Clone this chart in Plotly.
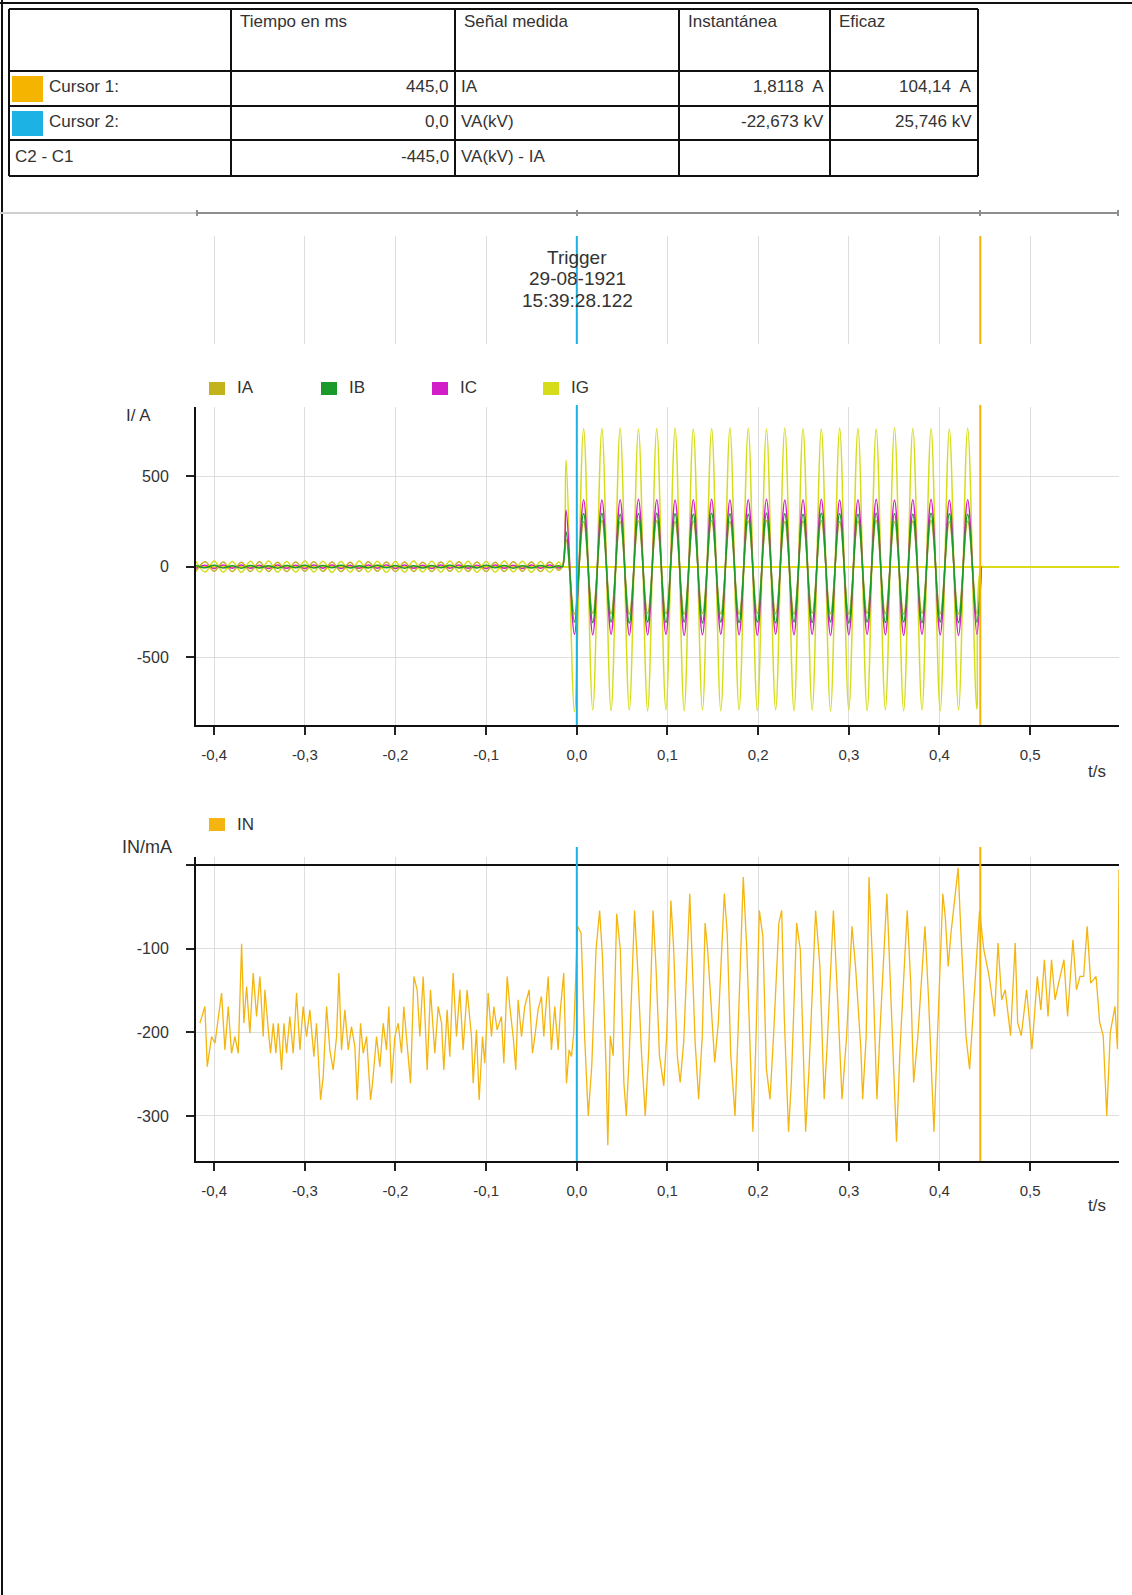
import plotly.graph_objects as go

W, H = 1132, 1595
FONT = "Liberation Sans, Arial, sans-serif"
TXT = "#333333"


def fx(p):
    return p / W


def fy(p):
    return 1 - p / H


# ---------------- data ----------------
TABLE_HEADERS = ["Tiempo en ms", "Señal medida", "Instantánea", "Eficaz"]
ROW_LABELS = ["Cursor 1:", "Cursor 2:", "C2 - C1"]
ROW_TIMES = ["445,0", "0,0", "-445,0"]
ROW_SIGNALS = ["IA", "VA(kV)", "VA(kV) - IA"]
ROW_INST = ["1,8118\u00a0 A", "-22,673 kV", ""]
ROW_RMS = ["104,14\u00a0 A", "25,746 kV", ""]

CURSOR_T_S = [0.445, 0.0]
CURSOR_COLORS = ["#f5b400", "#1cb2e4"]

TRIGGER_LINES = ["Trigger", "29-08-1921", "15:39:28.122"]

X_TICKS = [-0.4, -0.3, -0.2, -0.1, 0.0, 0.1, 0.2, 0.3, 0.4, 0.5]
X_TICK_TEXT = ["-0,4", "-0,3", "-0,2", "-0,1", "0,0", "0,1", "0,2", "0,3", "0,4", "0,5"]
I_TICKS = [-500, 0, 500]
I_TICK_TEXT = ["-500", "0", "500"]
IN_TICKS = [-300, -200, -100, 0]
IN_TICK_TEXT = ["-300", "-200", "-100", ""]

PHASE_NAMES = ["IA", "IB", "IC", "IG"]
PHASE_COLORS = ["#c2b21c", "#1a9a2a", "#d21ec8", "#d6dc1a"]
IN_NAME = "IN"
IN_COLOR = "#f4b510"

# pre-fault samples (ms) and small currents (A)
PRE_T_MS = [-420, -410, -400, -390, -380, -370, -360, -350, -340, -330,
            -320, -310, -300, -290, -280, -270, -260, -250, -240, -230,
            -220, -210, -200, -190, -180, -170, -160, -150, -140, -130,
            -120, -110, -100, -90, -80, -70, -60, -50, -40, -30, -20]
IA_PRE = [-26, 27, -25, 26, -27, 25, -26, 27, -26, 25, -27, 26, -25, 27, -26, 26, -27, 25, -26, 27,
          -25, 26, -27, 26, -26, 25, -27, 26, -25, 27, -26, 26, -27, 25, -26, 27, -25, 26, -27, 26, -20]
IB_PRE = [7, -6, 8, -7, 6, -8, 7, -7, 6, -8, 7, -6, 8, -7, 7, -6, 8, -7, 6, -7,
          8, -6, 7, -8, 6, -7, 7, -6, 8, -7, 6, -7, 8, -6, 7, -8, 6, -7, 7, -6, 5]
IC_PRE = [-9, 8, -10, 9, -8, 10, -9, 8, -10, 9, -9, 8, -10, 9, -8, 9, -10, 8, -9, 10,
          -8, 9, -10, 9, -9, 8, -10, 9, -8, 10, -9, 8, -10, 9, -9, 8, -10, 9, -8, 10, -7]
IG_PRE = [30, -29, 31, -30, 29, -31, 30, -29, 31, -30, 29, -30, 31, -29, 30, -31, 29, -30, 31, -29,
          30, -31, 29, -30, 31, -29, 30, -30, 31, -29, 30, -31, 29, -30, 31, -29, 30, -31, 29, -30, 26]

# fault: times (ms) of start, peaks and troughs, then return to zero
FAULT_T_MS = [-16.0, -11.8, -2.6, 7.5, 17.6, 27.7, 37.8, 47.8, 57.9, 68.0,
              78.1, 88.2, 98.3, 108.4, 118.4, 128.5, 138.6, 148.7, 158.8, 168.9,
              179.0, 189.1, 199.1, 209.2, 219.3, 229.4, 239.5, 249.5, 259.6, 269.7,
              279.8, 289.9, 300.0, 310.1, 320.2, 330.2, 340.3, 350.4, 360.5, 370.6,
              380.7, 390.7, 400.8, 410.9, 421.0, 431.1, 441.2, 446.2, 450.0, 598.0]
IG_FAULT = [0, 588, -800, 763, -790, 762, -795, 765, -790, 760,
            -795, 763, -790, 765, -795, 760, -790, 763, -795, 765,
            -790, 762, -795, 760, -790, 765, -795, 763, -790, 760,
            -795, 765, -790, 763, -795, 760, -790, 765, -795, 762,
            -790, 763, -795, 760, -790, 765, -785, 0, 0, 0]
IC_FAULT = [0, 312, -372, 370, -375, 368, -372, 370, -378, 372,
            -375, 370, -372, 368, -378, 370, -375, 372, -372, 368,
            -375, 370, -378, 372, -372, 368, -375, 370, -372, 372,
            -378, 368, -375, 370, -372, 372, -375, 368, -378, 370,
            -372, 372, -375, 368, -378, 370, -372, 0]
IB_FAULT = [0, 193, -305, 292, -308, 295, -305, 290, -310, 293,
            -305, 295, -308, 292, -305, 290, -310, 295, -305, 292,
            -308, 290, -305, 295, -310, 292, -305, 290, -308, 295,
            -305, 292, -310, 290, -305, 295, -308, 292, -305, 290,
            -310, 295, -305, 292, -308, 290, -305, 0]
IA_FAULT = [0, 150, -262, 250, -258, 255, -260, 250, -262, 252,
            -258, 255, -260, 250, -262, 252, -258, 255, -260, 250,
            -262, 252, -258, 255, -260, 250, -262, 252, -258, 255,
            -260, 250, -262, 252, -258, 255, -260, 250, -262, 252,
            -258, 255, -260, 250, -262, 252, -258, 0]

# neutral current IN (mA): sample times (ms) and values
IN_T_MS = [
    -415.7, -410.2, -407.6, -402.8, -399.1, -391.8, -388.1, -384.4, -380.8, -377.1,
    -373.4, -369.7, -367.2, -364.2, -360.6, -356.9, -353.2, -349.5, -345.9, -344.0,
    -340.3, -337.8, -334.8, -331.9, -329.3, -325.6, -323.1, -320.1, -316.5, -312.8,
    -309.1, -305.4, -301.8, -298.1, -294.4, -290.0, -287.1, -282.6, -279.7, -276.0,
    -272.4, -268.7, -265.0, -262.4, -259.5, -255.8, -252.1, -248.5, -244.8, -242.2,
    -238.5, -235.6, -231.9, -227.5, -225.3, -220.9, -217.2, -213.5, -209.9, -207.3,
    -204.4, -200.7, -197.0, -193.3, -190.8, -187.8, -183.4, -179.7, -176.1, -173.1,
    -169.4, -165.0, -161.4, -156.6, -152.9, -149.2, -146.7, -143.0, -140.1, -136.4,
    -132.7, -129.0, -125.4, -121.0, -116.2, -114.3, -110.7, -107.7, -104.0, -101.5,
    -97.8, -94.1, -91.5, -87.9, -83.1, -80.5, -76.8, -73.9, -70.2, -67.3,
    -64.7, -61.0, -57.4, -52.6, -48.9, -46.3, -42.7, -39.0, -36.4, -31.6,
    -28.0, -24.3, -20.6, -18.1, -14.4, -11.4, -8.5, -5.9, -3.4,
    0.8, 4.7, 8.6, 12.6, 16.5, 21.2, 25.2, 28.3, 32.2, 34.2,
    36.9, 40.1, 44.0, 48.0, 51.9, 54.6, 57.8, 63.7, 67.6, 71.5,
    75.5, 79.4, 84.1, 87.3, 91.2, 95.9, 99.1, 103.8, 106.9, 110.8,
    114.0, 117.9, 124.6, 126.6, 130.5, 134.4, 138.4, 141.5, 144.3, 152.1,
    156.1, 162.7, 165.9, 169.8, 174.5, 177.7, 183.6, 187.5, 191.4, 194.2,
    197.3, 201.3, 205.2, 209.1, 213.1, 217.0, 222.9, 226.0, 228.8, 233.5,
    236.6, 242.5, 246.5, 250.4, 252.4, 256.3, 263.4, 268.1, 272.8, 275.9,
    283.0, 287.7, 292.5, 297.6, 303.5, 307.4, 313.3, 315.3, 319.2, 322.3,
    326.3, 331.0, 334.1, 342.0, 346.7, 352.6, 356.5, 364.4, 368.3, 371.5,
    376.2, 384.0, 388.0, 393.9, 397.8, 403.7, 406.4, 409.6, 412.7, 420.6,
    423.3, 429.2, 433.2, 437.1, 444.2, 448.9, 454.8, 460.7, 464.6, 468.6,
    472.5, 478.4, 483.5, 486.2, 490.2, 496.1, 502.0, 507.9, 511.8, 515.7,
    519.7, 523.6, 527.5, 531.4, 537.3, 541.3, 547.2, 551.1, 555.0, 559.0,
    562.9, 566.8, 572.7, 576.7, 580.6, 584.5, 588.4, 593.6, 596.3, 598.0]
IN_MA = [
    -189, -169, -241, -205, -213, -153, -221, -169, -225, -205,
    -225, -94, -189, -145, -201, -129, -181, -133, -205, -149,
    -197, -225, -189, -225, -189, -245, -189, -225, -181, -225,
    -153, -221, -169, -205, -173, -229, -189, -281, -253, -169,
    -221, -245, -205, -129, -221, -173, -221, -193, -217, -281,
    -189, -225, -205, -281, -261, -205, -241, -189, -221, -169,
    -261, -205, -189, -225, -169, -205, -261, -133, -149, -205,
    -133, -245, -149, -225, -169, -189, -245, -173, -229, -129,
    -205, -149, -221, -149, -205, -261, -197, -281, -205, -237,
    -153, -205, -169, -197, -181, -237, -133, -169, -205, -245,
    -161, -205, -169, -149, -225, -205, -173, -157, -205, -133,
    -221, -169, -221, -173, -129, -261, -221, -229, -201,
    -73, -81, -204, -300, -240, -101, -54, -109, -240, -335,
    -204, -228, -58, -101, -260, -300, -228, -54, -133, -228,
    -300, -220, -54, -121, -228, -264, -204, -42, -101, -228,
    -260, -212, -34, -101, -212, -280, -204, -69, -101, -236,
    -188, -34, -81, -228, -300, -204, -14, -101, -236, -319,
    -220, -54, -85, -244, -280, -204, -69, -54, -181, -319,
    -260, -69, -101, -260, -319, -240, -54, -121, -280, -220,
    -54, -161, -280, -204, -73, -121, -220, -280, -204, -14,
    -121, -280, -204, -34, -161, -331, -220, -54, -141, -260,
    -204, -73, -161, -319, -204, -34, -62, -121, -81, -3,
    -73, -204, -244, -181, -54, -101, -133, -181, -93, -161,
    -149, -204, -93, -188, -204, -149, -220, -133, -173, -113,
    -181, -113, -161, -141, -113, -181, -89, -149, -133, -133,
    -73, -141, -133, -188, -204, -300, -200, -169, -220, -5]

# ---------------- figure ----------------
X_DOMAIN = [fx(196), fx(1119)]
X_RANGE = [-0.420, 0.598]

fig = go.Figure()

pre_sets = [IA_PRE, IB_PRE, IC_PRE, IG_PRE]
fault_sets = [IA_FAULT, IB_FAULT, IC_FAULT, IG_FAULT]
draw_order = [3, 2, 0, 1]  # IG behind, then IC, IA, IB
for i in draw_order:
    ys = pre_sets[i] + fault_sets[i]
    ts = [t / 1000 for t in (PRE_T_MS + FAULT_T_MS)[:len(ys)]]
    fig.add_trace(go.Scatter(
        x=ts, y=ys, mode="lines", name=PHASE_NAMES[i],
        line=dict(color=PHASE_COLORS[i], width=1.5, shape="spline", smoothing=1.0),
        xaxis="x", yaxis="y", showlegend=False, hoverinfo="skip"))

fig.add_trace(go.Scatter(
    x=[t / 1000 for t in IN_T_MS], y=IN_MA, mode="lines", name=IN_NAME,
    line=dict(color=IN_COLOR, width=1.3),
    xaxis="x2", yaxis="y2", showlegend=False, hoverinfo="skip"))

fig.add_trace(go.Scatter(x=[X_RANGE[0]], y=[0], mode="markers", marker=dict(opacity=0),
                         xaxis="x3", yaxis="y3", showlegend=False, hoverinfo="skip"))

axis_common = dict(
    domain=X_DOMAIN, range=X_RANGE, tickvals=X_TICKS, ticktext=X_TICK_TEXT,
    ticks="outside", ticklen=8, tickwidth=1.5, tickcolor="#222",
    showline=True, linewidth=2, linecolor="#111",
    showgrid=True, gridcolor="#dedede", gridwidth=1, zeroline=False,
    tickfont=dict(family=FONT, size=15, color=TXT), ticklabelstandoff=7,
    fixedrange=True)

yaxis_common = dict(
    ticks="outside", ticklen=8, tickwidth=1.5, tickcolor="#222",
    showline=True, linewidth=2, linecolor="#111",
    showgrid=True, gridcolor="#dedede", gridwidth=1,
    tickfont=dict(family=FONT, size=16, color=TXT), ticklabelstandoff=14,
    fixedrange=True)

fig.update_layout(
    width=W, height=H, margin=dict(l=0, r=0, t=0, b=0),
    paper_bgcolor="white", plot_bgcolor="white", showlegend=False,
    font=dict(family=FONT, size=15, color=TXT),
    xaxis=dict(anchor="y", **axis_common),
    yaxis=dict(anchor="x", domain=[fy(725), fy(407)], range=[-873, 881],
               tickvals=I_TICKS, ticktext=I_TICK_TEXT,
               zeroline=True, zerolinecolor="#e2dc10", zerolinewidth=1.5,
               **yaxis_common),
    xaxis2=dict(anchor="y2", **axis_common),
    yaxis2=dict(anchor="x2", domain=[fy(1161), fy(857)], range=[-354, 10],
                tickvals=IN_TICKS, ticktext=IN_TICK_TEXT,
                zeroline=True, zerolinecolor="#111", zerolinewidth=2,
                **yaxis_common),
    xaxis3=dict(anchor="y3", domain=X_DOMAIN, range=X_RANGE, tickvals=X_TICKS,
                showticklabels=False, ticks="", showline=False, zeroline=False,
                showgrid=True, gridcolor="#dedede", gridwidth=1, fixedrange=True),
    yaxis3=dict(anchor="x3", domain=[fy(344), fy(236)], range=[0, 1],
                showticklabels=False, ticks="", showline=False, zeroline=False,
                showgrid=False, fixedrange=True),
)

shapes = []
annotations = []


def text(x, y, s, size=15, xanchor="left", yanchor="middle", color=TXT):
    annotations.append(dict(x=fx(x), y=fy(y), xref="paper", yref="paper", text=s,
                            showarrow=False, xanchor=xanchor, yanchor=yanchor,
                            font=dict(family=FONT, size=size, color=color)))


def pline(x0, y0, x1, y1, color="#111", width=2):
    shapes.append(dict(type="line", xref="paper", yref="paper",
                       x0=fx(x0), y0=fy(y0), x1=fx(x1), y1=fy(y1),
                       line=dict(color=color, width=width), layer="above"))


def prect(x0, y0, x1, y1, fill):
    shapes.append(dict(type="rect", xref="paper", yref="paper",
                       x0=fx(x0), y0=fy(y0), x1=fx(x1), y1=fy(y1),
                       fillcolor=fill, line=dict(width=0), layer="above"))


# page frame
pline(2, 0, 2, H)
pline(0, 3, W, 3)

# ---- cursor table ----
col_x = [9, 231, 455, 679, 830, 978]
row_y = [9, 71, 106, 140, 176]
pline(col_x[0], row_y[0], col_x[-1], row_y[0])
pline(col_x[0], row_y[-1], col_x[-1], row_y[-1])
for cx in col_x:
    pline(cx, row_y[0], cx, row_y[-1])
for ry in row_y[1:-1]:
    pline(col_x[0], ry, col_x[-1], ry)

TS = 17
for j, h in enumerate(TABLE_HEADERS):
    text(col_x[j + 1] + 7, 21, h, size=TS)

for r in range(3):
    yc = (row_y[r + 1] + row_y[r + 2]) / 2 - 2
    lx = col_x[0] + 4
    if r < 2:
        prect(12, row_y[r + 1] + 5, 43, row_y[r + 2] - 4, CURSOR_COLORS[r])
        lx = 47
    text(lx, yc, ROW_LABELS[r], size=TS)
    text(col_x[2] - 4, yc, ROW_TIMES[r], size=TS, xanchor="right")
    text(col_x[2] + 4, yc, ROW_SIGNALS[r], size=TS)
    if ROW_INST[r]:
        text(col_x[4] - 4, yc, ROW_INST[r], size=TS, xanchor="right")
    if ROW_RMS[r]:
        text(col_x[5] - 4, yc, ROW_RMS[r], size=TS, xanchor="right")

# ---- timeline strip ----
pline(0, 213, 196, 213, color="#cfcfcf", width=2)
pline(196, 213, 1119, 213, color="#8f8f8f", width=2)
for mx in (197, 577, 980, 1118):
    pline(mx, 210, mx, 216, color="#8f8f8f", width=2)
for line_txt, ly in zip(TRIGGER_LINES, (257, 278, 301)):
    text(577, ly, line_txt, size=19, xanchor="center")

# ---- cursors ----
segments = [(236, 344), (405, 725), (847, 1161)]
for t, c in zip(CURSOR_T_S, CURSOR_COLORS):
    for y0, y1 in segments:
        shapes.append(dict(type="line", xref="x", yref="paper", x0=t, x1=t,
                           y0=fy(y1), y1=fy(y0), line=dict(color=c, width=2),
                           layer="above"))

# ---- legends ----
leg_x = [209, 321, 432, 543]
for i, name in enumerate(PHASE_NAMES):
    prect(leg_x[i], 382, leg_x[i] + 16, 395, PHASE_COLORS[i])
    text(leg_x[i] + 26, 388, name, size=17)
prect(209, 818, 225, 831, IN_COLOR)
text(235, 824, IN_NAME, size=17)

# ---- axis titles ----
text(138, 415, "I/ A", size=17, xanchor="center")
text(1097, 771, "t/s", size=17, xanchor="center")
text(147, 847, "IN/mA", size=18, xanchor="center")
text(1097, 1205, "t/s", size=17, xanchor="center")

fig.update_layout(shapes=shapes, annotations=annotations)
fig.write_html("out.html", config={"displayModeBar": False},
               post_script="document.body.style.margin='0px';")
